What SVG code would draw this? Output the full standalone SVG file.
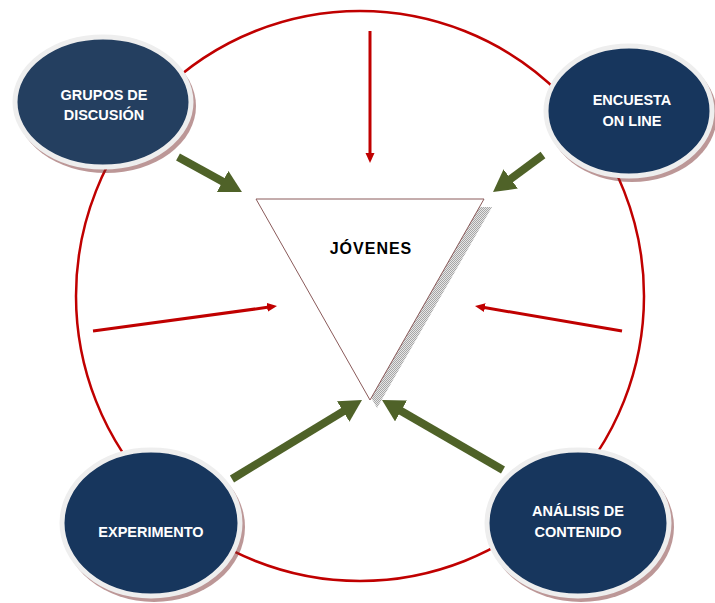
<svg xmlns="http://www.w3.org/2000/svg" width="715" height="603" viewBox="0 0 715 603">
<style>
.ring{fill:none;stroke:#c00000;stroke-width:2.5}
.red{stroke:#c00000;stroke-width:3;fill:none}
.green{stroke:#4f6228;stroke-width:8;fill:none}
.shadow{fill:#7a2f2f;opacity:0.5}
.node{stroke:#eeeeee;stroke-width:5}
.lbl{font-family:"Liberation Sans",Arial,sans-serif;font-weight:bold;font-size:14.5px;fill:#ffffff;text-anchor:middle}
.tri-lbl{font-family:"Liberation Sans",Arial,sans-serif;font-weight:bold;font-size:16px;fill:#000000;text-anchor:middle;letter-spacing:1px}
</style>
<defs>
<marker id="redHead" markerUnits="userSpaceOnUse" markerWidth="12" markerHeight="10" refX="2" refY="4.5" orient="auto">
<path d="M0,0 L10,4.5 L0,9 z" fill="#c00000"/>
</marker>
<marker id="greenHead" markerUnits="userSpaceOnUse" markerWidth="24" markerHeight="26" refX="2" refY="12" orient="auto">
<path d="M0,0 L22,12 L0,24 z" fill="#4f6228"/>
</marker>
<pattern id="dots" width="2" height="2" patternUnits="userSpaceOnUse">
<rect width="2" height="2" fill="#e6e6e6"/>
<rect width="1" height="1" fill="#a6a6a6"/>
<rect x="1" y="1" width="1" height="1" fill="#a6a6a6"/>
</pattern>
</defs>
<rect width="715" height="603" fill="#ffffff"/>
<ellipse class="ring" cx="360" cy="296" rx="284" ry="285"/>
<g id="connectors">
<line class="red" x1="370" y1="31" x2="370" y2="155" marker-end="url(#redHead)"/>
<line class="red" x1="93" y1="331" x2="269.1" y2="307.1" marker-end="url(#redHead)"/>
<line class="red" x1="622" y1="331" x2="482.9" y2="307.3" marker-end="url(#redHead)"/>
<line class="green" x1="178" y1="157" x2="224.4" y2="182.4" marker-end="url(#greenHead)"/>
<line class="green" x1="543" y1="155" x2="509.1" y2="180.1" marker-end="url(#greenHead)"/>
<line class="green" x1="232" y1="479" x2="344.9" y2="410.4" marker-end="url(#greenHead)"/>
<line class="green" x1="503" y1="470" x2="399.3" y2="410" marker-end="url(#greenHead)"/>
</g>
<g id="jovenes">
<polygon points="263,207 492,207 377,408" fill="url(#dots)"/>
<polygon points="256,199 484,199 370,400" fill="#ffffff" stroke="#8a5a5a" stroke-width="1"/>
<text class="tri-lbl" x="371" y="254">JÓVENES</text>
</g>
<g id="grupos">
<ellipse class="shadow" cx="106" cy="106" rx="90" ry="67"/>
<ellipse class="node" cx="103" cy="102" rx="88" ry="65" fill="#243f60"/>
<text class="lbl" x="104" y="100">GRUPOS DE</text>
<text class="lbl" x="104" y="120">DISCUSIÓN</text>
</g>
<g id="encuesta">
<ellipse class="shadow" cx="632" cy="115" rx="85" ry="67"/>
<ellipse class="node" cx="629" cy="111" rx="83" ry="65" fill="#17365d"/>
<text class="lbl" x="632" y="105">ENCUESTA</text>
<text class="lbl" x="632" y="126">ON LINE</text>
</g>
<g id="experimento">
<ellipse class="shadow" cx="154" cy="527" rx="91" ry="75"/>
<ellipse class="node" cx="151" cy="523" rx="89" ry="73" fill="#17365d"/>
<text class="lbl" x="151" y="537">EXPERIMENTO</text>
</g>
<g id="analisis">
<ellipse class="shadow" cx="581" cy="527" rx="93" ry="75"/>
<ellipse class="node" cx="578" cy="523" rx="91" ry="73" fill="#17365d"/>
<text class="lbl" x="578" y="516">ANÁLISIS DE</text>
<text class="lbl" x="578" y="537">CONTENIDO</text>
</g>
</svg>
